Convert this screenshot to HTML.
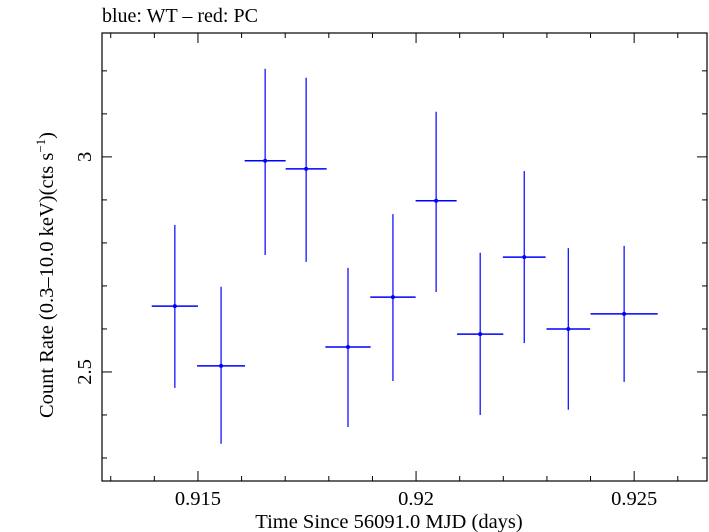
<!DOCTYPE html>
<html><head><meta charset="utf-8"><style>
body{margin:0;background:#fff}
svg{display:block;font-family:"Liberation Serif",serif}
</style></head><body>
<svg id="chart" width="709" height="532">
<text x="102" y="22" font-size="20">blue: WT – red: PC</text>
<rect x="102" y="33" width="605" height="448" fill="none" stroke="#000" stroke-width="1.2"/>
<g id="ticks"></g>
<g id="marks"></g>
<text x="389" y="528" font-size="20.5" text-anchor="middle">Time Since 56091.0 MJD (days)</text>
<text transform="translate(53,275) rotate(-90)" font-size="20.5" text-anchor="middle">Count Rate (0.3–10.0 keV)(cts s<tspan dy="-8" font-size="13">−1</tspan><tspan dy="8">)</tspan></text>
</svg>
<script>
const times=[0.91447,0.91553,0.91654,0.91748,0.91844,0.91947,0.92046,0.92147,0.92248,0.92349,0.92477];
const halfWidths=[0.00053,0.00055,0.00047,0.00047,0.00052,0.00052,0.00047,0.00053,0.00049,0.00050,0.00077];
const rates=[2.653,2.514,2.991,2.972,2.558,2.674,2.898,2.588,2.767,2.600,2.635];
const errUp=[0.189,0.184,0.214,0.212,0.184,0.193,0.207,0.189,0.200,0.188,0.158];
const errDn=[0.190,0.181,0.219,0.216,0.186,0.195,0.212,0.188,0.200,0.188,0.158];
const xTickLabels=["0.915","0.92","0.925"];
const xTickVals=[0.915,0.92,0.925];
const yTickLabels=["2.5","3"];
const yTickVals=[2.5,3];
const L=102,R=707,T=33,B=481;
const xMin=0.91280,xMax=0.92667,yMin=2.2465,yMax=3.288;
const xs=v=>L+(v-xMin)/(xMax-xMin)*(R-L);
const ys=v=>B-(v-yMin)/(yMax-yMin)*(B-T);
const NS="http://www.w3.org/2000/svg";
function mk(tag,attrs,parent){const e=document.createElementNS(NS,tag);for(const k in attrs)e.setAttribute(k,attrs[k]);parent.appendChild(e);return e;}
const tg=document.getElementById('ticks');
for(let i=0;i<=20;i++){const v=0.913+i*0.001;if(v>xMax)break;const x=xs(v);const major=Math.abs(Math.round(v*200)-v*200)<1e-6;const len=major?10:5;
const t1=mk('line',{x1:x,x2:x,y1:B,y2:B-len,stroke:'#000'},tg);


const t2=mk('line',{x1:x,x2:x,y1:T,y2:T+len,stroke:'#000'},tg);

}
xTickVals.forEach((v,i)=>{const t=mk('text',{x:xs(v),y:505,'font-size':20.5,'text-anchor':'middle'},tg);t.textContent=xTickLabels[i];

});
for(let i=0;i<12;i++){const v=2.3+i*0.1;if(v>yMax)break;const y=ys(v);const major=Math.abs(v*2-Math.round(v*2))<1e-6;const len=major?10:5;
const t1=mk('line',{x1:L,x2:L+len,y1:y,y2:y,stroke:'#000'},tg);


const t2=mk('line',{x1:R,x2:R-len,y1:y,y2:y,stroke:'#000'},tg);

}
yTickVals.forEach((v,i)=>{const t=mk('text',{'font-size':20.5,'text-anchor':'middle',transform:`translate(91,${ys(v)}) rotate(-90)`},tg);t.textContent=yTickLabels[i];

});
const mg=document.getElementById('marks');
times.forEach((t,i)=>{const x=xs(t),y=ys(rates[i]);
const g=mk('g',{},mg);


mk('line',{x1:x,x2:x,y1:ys(rates[i]+errUp[i]),y2:ys(rates[i]-errDn[i]),stroke:'#0000ff','stroke-width':1.2},g);
mk('line',{x1:xs(t-halfWidths[i]),x2:xs(t+halfWidths[i]),y1:y,y2:y,stroke:'#0000ff','stroke-width':1.5},g);
mk('circle',{cx:x,cy:y,r:2,fill:'#0000ff'},g);});
</script>
</body></html>
